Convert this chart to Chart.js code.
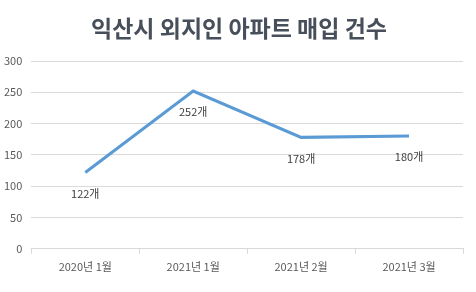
<!DOCTYPE html>
<html>
<head>
<meta charset="utf-8">
<script src="https://cdn.jsdelivr.net/npm/chart.js@4"></script>
<style>
  html, body { margin: 0; padding: 0; background: #fff; }
  #wrap { width: 476px; height: 292px; position: relative; }
</style>
</head>
<body>
<div id="wrap"><canvas id="chart"></canvas></div>
<script>
  const categories = ["2020년 1월", "2021년 1월", "2021년 2월", "2021년 3월"];
  const purchases = [122, 252, 178, 180];
  const yTicks = [0, 50, 100, 150, 200, 250, 300];
  const unit = "개";
  const chartTitle = "익산시 외지인 아파트 매입 건수";

  const font = "'Noto Sans CJK KR', 'Noto Sans', sans-serif";

  // value labels under each point, title centred on the whole canvas
  const pointLabels = {
    id: "pointLabels",
    afterDatasetsDraw(chart) {
      const ctx = chart.ctx;
      const meta = chart.getDatasetMeta(0);
      ctx.save();
      ctx.font = "11px " + font;
      ctx.fillStyle = "#404040";
      ctx.textAlign = "center";
      ctx.textBaseline = "middle";
      meta.data.forEach((pt, i) => {
        ctx.fillText(purchases[i] + unit, pt.x, pt.y + 21);
      });
      ctx.font = "bold 23px " + font;
      ctx.fillStyle = "#474f5a";
      ctx.fillText(chartTitle, chart.width / 2 + 1, 28);
      ctx.restore();
    },
  };

  new Chart(document.getElementById("chart"), {
    type: "line",
    data: {
      labels: categories,
      datasets: [{
        data: purchases,
        borderColor: "#5b9bd5",
        borderWidth: 3,
        pointRadius: 0,
        tension: 0,
        fill: false,
      }],
    },
    options: {
      responsive: true,
      maintainAspectRatio: false,
      animation: false,
      layout: { padding: { left: -5, right: 13, top: 61, bottom: 13 } },
      plugins: {
        legend: { display: false },
        tooltip: { enabled: false },
        title: { display: false },
      },
      scales: {
        x: {
          offset: true,
          border: { display: true, color: "#d9d9d9" },
          grid: { drawOnChartArea: false, drawTicks: true, tickLength: 5, color: "#d9d9d9", offset: true },
          ticks: { color: "#595959", font: { family: font, size: 11 }, padding: 6 },
        },
        y: {
          min: 0,
          max: 300,
          afterBuildTicks(axis) { axis.ticks = yTicks.map((v) => ({ value: v })); },
          border: { display: false },
          grid: { color: "#d9d9d9", drawTicks: false },
          ticks: { color: "#595959", font: { family: font, size: 11 }, padding: 9 },
        },
      },
    },
    plugins: [pointLabels],
  });
</script>
</body>
</html>
